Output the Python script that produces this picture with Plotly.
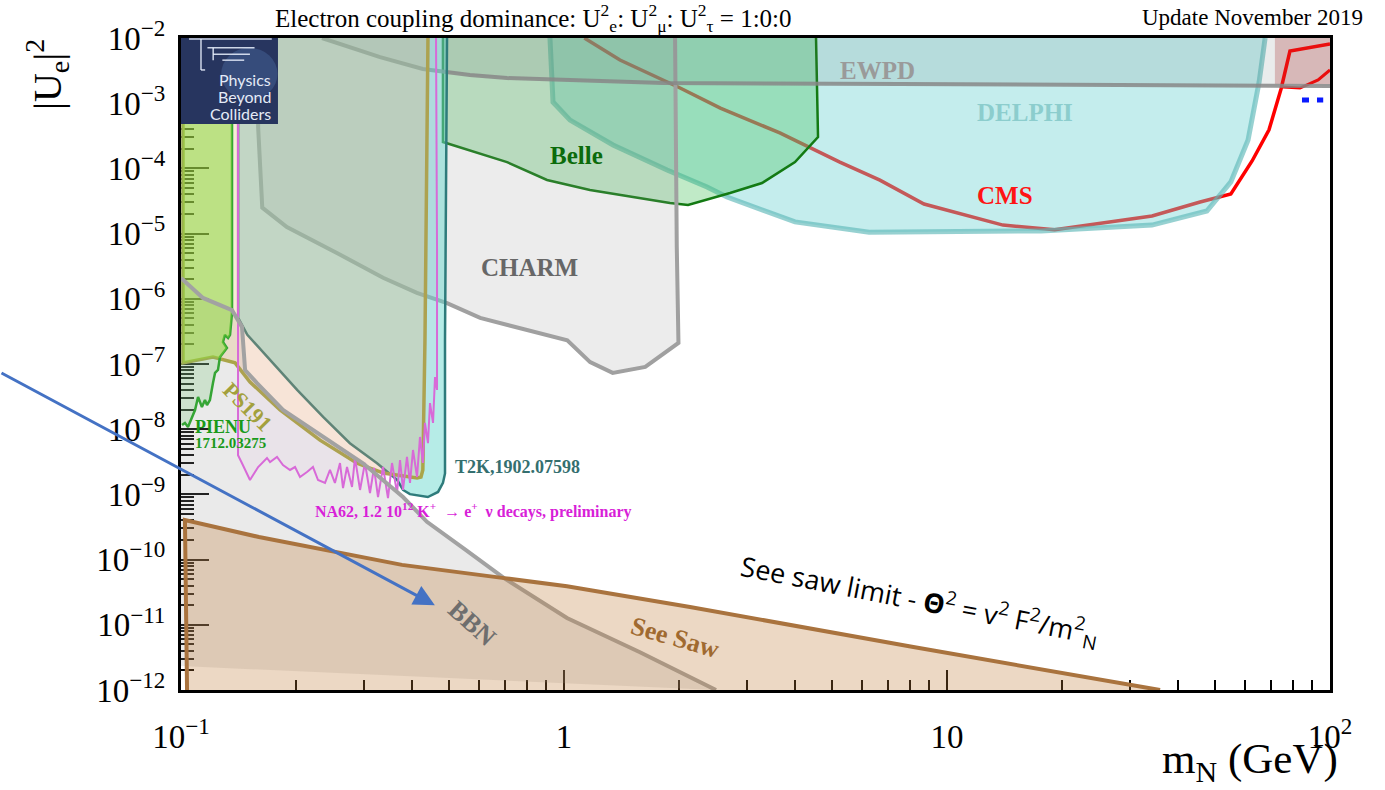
import numpy as np
import plotly.graph_objects as go

# ---------------------------------------------------------------
# Heavy neutral lepton, electron coupling: exclusion contours
# mass m_N in GeV, mixing |U_e|^2
# ---------------------------------------------------------------
bbn_m = [0.1, 0.1141, 0.1359, 0.1443, 0.147, 0.1579, 0.1846, 0.2348, 0.2986,
         0.3799, 0.4387, 0.5548, 0.6975, 1.018, 1.579, 2.494]
bbn_u = [2.08e-6, 1.03e-6, 6.7e-7, 3.7e-7, 8.1e-8, 5.1e-8, 1.97e-8, 7.6e-9, 3.0e-9,
         9.1e-10, 3.8e-10, 1.4e-10, 5.2e-11, 1.27e-11, 3.8e-12, 1e-12]
bbn_floor = [(0.1, 2.33e-12)]

seesaw_m = [0.1037, 0.1024, 0.1598, 0.3776, 0.6975, 1.018, 2.133, 8.10, 36.0]
seesaw_u = [1e-12, 4.05e-10, 2.22e-10, 8.3e-11, 5.2e-11, 3.9e-11, 1.88e-11, 4.6e-12, 1e-12]

cms_m = [1.13, 1.40, 2.01, 2.56, 3.66, 5.25, 6.68, 8.71, 14.0, 19.1, 34.3, 45.8,
         55.1, 62.6, 69.3, 74.5, 78.6, 100]
cms_u = [1e-2, 4.6e-3, 1.71e-3, 8.4e-4, 3.5e-4, 1.25e-4, 6.6e-5, 2.84e-5, 1.35e-5,
         1.15e-5, 1.86e-5, 3.05e-5, 4.05e-5, 1.3e-4, 3.9e-4, 1.65e-3, 6.3e-3, 8.1e-3]
cms_low_m = [75.4, 83.5, 93.1, 100]
cms_low_u = [1.77e-3, 1.71e-3, 2.27e-3, 3.23e-3]
highmass_m = [71.8, 71.8, 100, 100]
highmass_u = [1e-2, 1.97e-3, 1.97e-3, 1e-2]

delphi_m = [0.919, 0.936, 1.037, 1.343, 1.858, 2.363, 2.665, 4.01, 6.26, 17.6, 34.3,
            47.7, 55.1, 61.1, 65.3, 67.7]
delphi_u = [1e-2, 1.04e-3, 5.5e-4, 2.29e-4, 9.45e-5, 5.2e-5, 3.64e-5, 1.51e-5, 1.05e-5,
            1.1e-5, 1.35e-5, 2.22e-5, 6.2e-5, 2.73e-4, 2.11e-3, 1e-2]

belle_m = [0.483, 0.483, 0.710, 0.903, 1.169, 1.891, 2.108, 2.713, 3.289, 4.01, 4.605, 4.55]
belle_u = [1e-2, 2.54e-4, 1.25e-4, 6.64e-5, 4.67e-5, 2.95e-5, 2.75e-5, 4.2e-5, 5.97e-5,
           1.25e-4, 3.03e-4, 1e-2]

charm_m = [0.159, 0.159, 0.163, 0.189, 0.256, 0.337, 0.413, 0.495, 0.604, 1.02, 1.17,
           1.34, 1.63, 1.99, 1.97, 1.95]
charm_u = [1e-2, 4.3e-4, 2.5e-5, 1.26e-5, 5.0e-6, 2.1e-6, 1.23e-6, 8.6e-7, 5.1e-7,
           2.3e-7, 1.07e-7, 7.3e-8, 9.0e-8, 2.1e-7, 6.2e-6, 1e-2]

ewpd_m = [0.2334, 0.331, 0.428, 0.568, 0.710, 1.814, 7.54, 25.1, 100]
ewpd_u = [1e-2, 5.1e-3, 3.35e-3, 2.71e-3, 2.43e-3, 2.04e-3, 1.97e-3, 1.90e-3, 1.84e-3]

t2k_m = [0.141, 0.141, 0.149, 0.171, 0.201, 0.235, 0.276, 0.325, 0.367, 0.380, 0.396,
         0.441, 0.469, 0.483, 0.489, 0.489, 0.495]
t2k_u = [1e-2, 5.1e-7, 2.8e-7, 1.15e-7, 4.0e-8, 1.54e-8, 6.1e-9, 3.0e-9, 1.66e-9,
         1.17e-9, 1.01e-9, 9.1e-10, 1.09e-9, 1.5e-9, 2.1e-9, 2.3e-7, 1e-2]

ps191_m = [0.1012, 0.1012, 0.1212, 0.1384, 0.1514, 0.1814, 0.2306, 0.2881, 0.3369,
           0.4133, 0.4232, 0.428, 0.4335, 0.4387, 0.4414]
ps191_u = [1e-2, 1.04e-7, 1.28e-7, 1.04e-7, 5.3e-8, 1.97e-8, 6.8e-9, 3.0e-9, 2.13e-9,
           1.78e-9, 1.84e-9, 2.37e-9, 2.33e-7, 6.6e-5, 1e-2]

na62_m = [0.1409, 0.1409, 0.1443, 0.1514, 0.159, 0.1677, 0.1708, 0.1781, 0.1846, 0.1926,
          0.1985, 0.2045, 0.2133, 0.2211, 0.2279, 0.2377, 0.2449, 0.2523, 0.2601, 0.2649,
          0.2713, 0.2796, 0.2846, 0.2934, 0.3022, 0.3115, 0.3191, 0.3269, 0.3369, 0.3471,
          0.3556, 0.3665, 0.3731, 0.3799, 0.3891, 0.3962, 0.4034, 0.4133, 0.4207, 0.428,
          0.4335, 0.4414, 0.4468, 0.455, 0.4605, 0.4661, 0.4661, 0.4633]
na62_u = [1e-2, 4.0e-9, 3.0e-9, 1.66e-9, 2.63e-9, 3.62e-9, 3.14e-9, 3.75e-9, 2.82e-9, 2.37e-9,
          2.63e-9, 1.85e-9, 2.21e-9, 2.63e-9, 1.66e-9, 1.5e-9, 2.37e-9, 1.5e-9, 3.03e-9, 1.25e-9,
          2.63e-9, 1.3e-9, 3.62e-9, 1.17e-9, 3.03e-9, 1.05e-9, 2.54e-9, 9.1e-10, 2.63e-9, 8.8e-10,
          3.03e-9, 1.05e-9, 3.37e-9, 1.17e-9, 3.75e-9, 1.5e-9, 4.8e-9, 1.85e-9, 7.6e-9, 3.03e-9,
          1.25e-8, 6.1e-9, 2.52e-8, 1.25e-8, 6.3e-8, 4.0e-8, 5.6e-6, 1e-2]

pienu_m = [0.1359, 0.1359, 0.1343, 0.1327, 0.1302, 0.1287, 0.1318, 0.1264, 0.1249, 0.1227,
           0.1212, 0.119, 0.1169, 0.1155, 0.1134, 0.1108, 0.1088, 0.1068, 0.1043, 0.1024, 0.1006]
pienu_u = [1e-2, 6.1e-7, 2.8e-7, 2.5e-7, 2.8e-7, 2.17e-7, 1.76e-7, 1.28e-7, 8.1e-8, 7.3e-8,
           5.1e-8, 2.8e-8, 2.35e-8, 2.8e-8, 2.19e-8, 3.12e-8, 1.97e-8, 1.54e-8, 1.08e-8,
           1.25e-8, 1.16e-8]
# part of the PIENU region lying inside PS191
pienu_ps191_m = [0.1012, 0.1359, 0.1359, 0.1343, 0.1327, 0.1302, 0.1287, 0.1318, 0.1264,
                 0.1212, 0.1012]
pienu_ps191_u = [1e-2, 1e-2, 6.1e-7, 2.8e-7, 2.5e-7, 2.8e-7, 2.17e-7, 1.76e-7, 1.22e-7,
                 1.28e-7, 1.04e-7]

future_m = [84.5, 96.0]
future_u = [1.12e-3, 1.12e-3]

arrow_head = (0.46, 2.0e-11)

# axis ticks
x_major = [0.1, 1, 10, 100]
x_major_text = ["10<sup>−1</sup>", "1", "10", "10<sup>2</sup>"]
y_major = [10.0 ** k for k in range(-12, -1)]
y_major_text = ["10<sup>−%d</sup>" % -k for k in range(-12, -1)]
x_minor = [d * 10.0 ** k for k in (-1, 0, 1) for d in range(2, 10)]
y_minor = [d * 10.0 ** k for k in range(-12, -2) for d in range(2, 10)]

SERIF = "Liberation Serif"

fig = go.Figure()


def region(m, u, fill, line=None, width=0, close=None):
    """Filled polygon; outline drawn along the listed points only."""
    xs = list(m) + ([c[0] for c in close] if close else [])
    ys = list(u) + ([c[1] for c in close] if close else [])
    fig.add_trace(go.Scatter(x=xs, y=ys, mode="lines", fill="toself", fillcolor=fill,
                             line=dict(width=0, color="rgba(0,0,0,0)"), hoverinfo="skip"))
    if line:
        fig.add_trace(go.Scatter(x=m, y=u, mode="lines", hoverinfo="skip",
                                 line=dict(color=line, width=width)))


def curve(m, u, color, width, dash=None):
    fig.add_trace(go.Scatter(x=m, y=u, mode="lines", hoverinfo="skip",
                             line=dict(color=color, width=width, dash=dash)))


# BBN excluded area
region(bbn_m, bbn_u, "rgba(160,160,160,0.22)", close=bbn_floor)

# high mass: CMS and other collider limits
region(highmass_m, highmass_u, "rgba(190,70,70,0.32)")
curve(cms_m, cms_u, "#ff0000", 3.5)
curve(cms_low_m, cms_low_u, "#ff0000", 3)

region(delphi_m, delphi_u, "rgba(115,212,212,0.42)", "rgba(95,185,185,0.65)", 5)
region(belle_m, belle_u, "rgba(60,190,80,0.32)", "#137a13", 2.5)
region(charm_m, charm_u, "rgba(150,150,150,0.18)", "#a0a0a0", 4)
region(ewpd_m, ewpd_u, "rgba(90,105,105,0.13)", "rgba(135,135,135,0.85)", 4,
       close=[(100, 1e-2)])

# low mass: beam dump / peak searches
region(t2k_m, t2k_u, "rgba(100,214,205,0.47)", "#2e7b7b", 2.5)
region(ps191_m, ps191_u, "rgba(230,170,80,0.23)", "#aaa548", 3.5)
region(na62_m, na62_u, "rgba(215,120,225,0.06)", "#d86ad8", 2)
region(pienu_m, pienu_u, "rgba(120,200,120,0.25)", "#35a535", 2.5,
       close=[(0.1, 1.16e-8), (0.1, 1e-2)])
region(pienu_ps191_m, pienu_ps191_u, "rgba(150,225,50,0.42)")

curve(bbn_m, bbn_u, "#a2a2a2", 4)

region(seesaw_m, seesaw_u, "rgba(192,125,58,0.30)", "#a9733e", 4)

curve(future_m, future_u, "#0a1aff", 5, dash="7px,8px")

# ---- labels ----
labels = [
    ("<b>Belle</b>", 1.081, 1.6e-4, "#0b6b0b", 25, 0),
    ("<b>CHARM</b>", 0.815, 2.97e-6, "#676767", 25, 0),
    ("<b>EWPD</b>", 6.6, 3.23e-3, "#9a9a9a", 25, 0),
    ("<b>DELPHI</b>", 16.0, 7.1e-4, "#8ccdcd", 25, 0),
    ("<b>CMS</b>", 14.2, 3.9e-5, "#ff1414", 25, 0),
    ("<b>T2K,1902.07598</b>", 0.754, 2.63e-9, "#346f6f", 18, 0),
    ("<b>NA62, 1.2 10<sup>12</sup> K<sup>+</sup>  → e<sup>+</sup>  ν decays, preliminary</b>",
     0.579, 5.6e-10, "#d81fd8", 16, 0),
    ("<b>PIENU</b>", 0.1287, 1.08e-8, "#1a9a1a", 18, 0),
    ("<b>1712.03275</b>", 0.135, 6.1e-9, "#1a9a1a", 15, 0),
    ("<b>PS191</b>", 0.1487, 2.2e-8, "#a3a03c", 22, 45),
    ("<b>BBN</b>", 0.575, 1.03e-11, "#6e6e6e", 26, 42),
    ("<b>See Saw</b>", 1.95, 6.5e-12, "#a06a30", 26, 16),
]
for text, m, u, color, size, angle in labels:
    fig.add_annotation(x=np.log10(m), y=np.log10(u), xref="x", yref="y", text=text,
                       showarrow=False, textangle=angle,
                       font=dict(family=SERIF, size=size, color=color))

fig.add_annotation(x=np.log10(8.5), y=np.log10(2.4e-11), xref="x", yref="y",
                   text="See saw limit - <b>Θ</b><sup>2</sup> = v<sup>2</sup> F<sup>2</sup>/m<sup>2</sup><sub>N</sub>",
                   showarrow=False, textangle=11,
                   font=dict(family="Open Sans", size=27, color="black"))

# arrow pointing at the BBN bound
fig.add_annotation(x=np.log10(arrow_head[0]), y=np.log10(arrow_head[1]), xref="x", yref="y",
                   ax=-435, ay=-233, axref="pixel", ayref="pixel", text="",
                   showarrow=True, arrowhead=2, arrowsize=1.4, arrowwidth=3,
                   arrowcolor="#4472c4")

# titles
fig.add_annotation(x=0.307, y=1.031, xref="paper", yref="paper", showarrow=False,
                   xanchor="center", yanchor="middle",
                   text="Electron coupling dominance: U<sup>2</sup><sub>e</sub>: U<sup>2</sup><sub>μ</sub>: U<sup>2</sup><sub>τ</sub> = 1:0:0",
                   font=dict(family=SERIF, size=25, color="black"))
fig.add_annotation(x=1.0305, y=1.031, xref="paper", yref="paper", showarrow=False,
                   xanchor="right", yanchor="middle", text="Update November 2019",
                   font=dict(family=SERIF, size=23, color="black"))
fig.add_annotation(x=-0.117, y=0.944, xref="paper", yref="paper", showarrow=False,
                   xanchor="center", yanchor="middle",
                   text="|U<sub>e</sub>|<sup>2</sup>", textangle=-90,
                   font=dict(family=SERIF, size=40, color="black"))
fig.add_annotation(x=1.009, y=-0.11, xref="paper", yref="paper", showarrow=False,
                   xanchor="right", yanchor="middle", text="m<sub>N</sub> (GeV)",
                   font=dict(family=SERIF, size=43, color="black"))

# Physics Beyond Colliders badge
fig.add_shape(type="rect", xref="paper", yref="paper", x0=0, x1=0.0844, y0=0.868, y1=1.0,
              fillcolor="#27355f", line=dict(width=0), layer="above")
fig.add_shape(type="circle", xref="paper", yref="paper", x0=0.035, x1=0.084, y0=0.905, y1=0.985,
              fillcolor="rgba(110,160,225,0.22)", line=dict(width=0), layer="above")
badge_lines = [(0.007, 0.9985, 0.079, 0.9985), (0.0174, 0.9985, 0.0174, 0.951),
               (0.0174, 0.951, 0.021, 0.951), (0.023, 0.985, 0.064, 0.985),
               (0.028, 0.985, 0.028, 0.966), (0.028, 0.975, 0.060, 0.975),
               (0.036, 0.966, 0.055, 0.966)]
for x0, y0, x1, y1 in badge_lines:
    fig.add_shape(type="line", xref="paper", yref="paper", x0=x0, y0=y0, x1=x1, y1=y1,
                  line=dict(color="rgba(235,242,255,0.85)", width=1.5), layer="above")
for word, yy in (("Physics", 0.9356), ("Beyond", 0.910), ("Colliders", 0.884)):
    fig.add_annotation(x=0.0792, y=yy, xref="paper", yref="paper", xanchor="right",
                       yanchor="middle", text=word, showarrow=False, borderpad=0,
                       font=dict(family="Lato", size=16, color="#e4ebf7"))

axis_common = dict(type="log", showgrid=False, zeroline=False, tickmode="array",
                   ticks="inside", tickwidth=2, tickcolor="black",
                   showline=True, linewidth=3, linecolor="black", mirror=True,
                   layer="below traces",
                   tickfont=dict(family=SERIF, size=33, color="black"))

fig.update_layout(
    width=1385, height=790,
    margin=dict(l=181, r=55, t=38, b=100),
    paper_bgcolor="white", plot_bgcolor="white",
    showlegend=False,
    xaxis=dict(range=[-1, 2], tickvals=x_major, ticktext=x_major_text, ticklen=20,
               ticklabelstandoff=15,
               minor=dict(tickmode="array", tickvals=x_minor, ticks="inside", ticklen=10,
                          tickwidth=2, tickcolor="black", showgrid=False),
               **axis_common),
    yaxis=dict(range=[-12, -2], tickvals=y_major, ticktext=y_major_text, ticklen=28,
               ticklabelstandoff=6,
               minor=dict(tickmode="array", tickvals=y_minor, ticks="inside", ticklen=13,
                          tickwidth=2, tickcolor="black", showgrid=False),
               **axis_common),
)

fig.write_html("out.html")
